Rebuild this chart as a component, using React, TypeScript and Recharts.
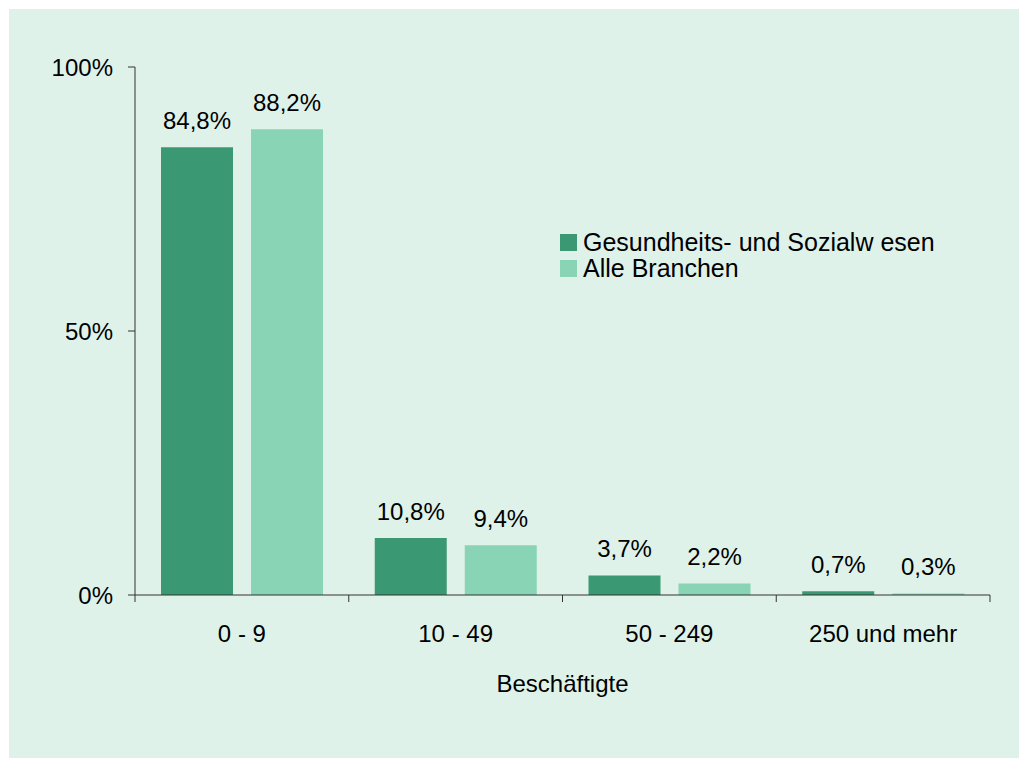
import React from "react";
import { BarChart, Bar, XAxis, YAxis, Legend, LabelList } from "recharts";

const categories = ["0 - 9", "10 - 49", "50 - 249", "250 und mehr"];
const gesundheit = [84.8, 10.8, 3.7, 0.7];
const alleBranchen = [88.2, 9.4, 2.2, 0.3];
const yTicks = [0, 50, 100];
const boundaryTicks = [0, 1, 2, 3, 4];

const seriesNames = {
  g: "Gesundheits- und Sozialw esen",
  a: "Alle Branchen",
};

const DARK = "#3a9872";
const LIGHT = "#88d4b4";
const FONT = "'Liberation Sans', Arial, sans-serif";

const data = categories.map((name, i) => ({
  name,
  pos: i + 0.5,
  g: gesundheit[i],
  a: alleBranchen[i],
}));

const fmt = (v: unknown) => `${String(v).replace(".", ",")}%`;

function LegendBox() {
  const rows = [
    { label: seriesNames.g, color: DARK },
    { label: seriesNames.a, color: LIGHT },
  ];
  return (
    <div style={{ fontFamily: FONT, fontSize: 25, color: "#000" }}>
      {rows.map((r) => (
        <div key={r.label} style={{ display: "flex", alignItems: "center", height: 26 }}>
          <span style={{ width: 17, height: 17, background: r.color, marginRight: 6 }} />
          <span>{r.label}</span>
        </div>
      ))}
    </div>
  );
}

export default function App() {
  return (
    <div
      style={{
        position: "absolute",
        left: 9,
        top: 9,
        width: 1010,
        height: 749,
        background: "#dff2ea",
      }}
    >
      <BarChart
        width={1010}
        height={749}
        data={data}
        margin={{ top: 58, right: 29, left: 0, bottom: 62 }}
        barSize={72}
        barGap={18}
      >
        {/* axis line + tick marks on the category boundaries */}
        <XAxis
          xAxisId="b"
          dataKey="pos"
          type="number"
          domain={[0, 4]}
          ticks={boundaryTicks}
          interval={0}
          height={1}
          tickSize={7}
          tickFormatter={() => ""}
          tick={{ fontSize: 1 }}
          axisLine={{ stroke: "#333" }}
          tickLine={{ stroke: "#333" }}
        />
        <XAxis
          xAxisId="cat"
          dataKey="name"
          height={100}
          tickLine={false}
          tickSize={0}
          tickMargin={29}
          axisLine={false}
          tick={{ fill: "#000", fontSize: 24, fontFamily: FONT }}
          label={{
            value: "Beschäftigte",
            position: "insideBottom",
            offset: 4,
            fill: "#000",
            fontSize: 24,
            fontFamily: FONT,
          }}
        />
        <YAxis
          domain={[0, 100]}
          ticks={yTicks}
          width={126}
          tickSize={7}
          tickMargin={15}
          tickFormatter={(v: number) => `${v}%`}
          axisLine={{ stroke: "#333" }}
          tickLine={{ stroke: "#333" }}
          tick={{ fill: "#000", fontSize: 24, fontFamily: FONT }}
        />
        <Legend
          layout="horizontal"
          align="center"
          verticalAlign="middle"
          content={() => <LegendBox />}
          wrapperStyle={{ left: 551, top: 220, width: "auto" }}
        />
        <Bar xAxisId="cat" dataKey="g" name={seriesNames.g} fill={DARK} isAnimationActive={false}>
          <LabelList
            dataKey="g"
            position="top"
            offset={18}
            formatter={fmt}
            style={{ fill: "#000", fontSize: 24, fontFamily: FONT }}
          />
        </Bar>
        <Bar xAxisId="cat" dataKey="a" name={seriesNames.a} fill={LIGHT} isAnimationActive={false}>
          <LabelList
            dataKey="a"
            position="top"
            offset={18}
            formatter={fmt}
            style={{ fill: "#000", fontSize: 24, fontFamily: FONT }}
          />
        </Bar>
      </BarChart>
    </div>
  );
}
